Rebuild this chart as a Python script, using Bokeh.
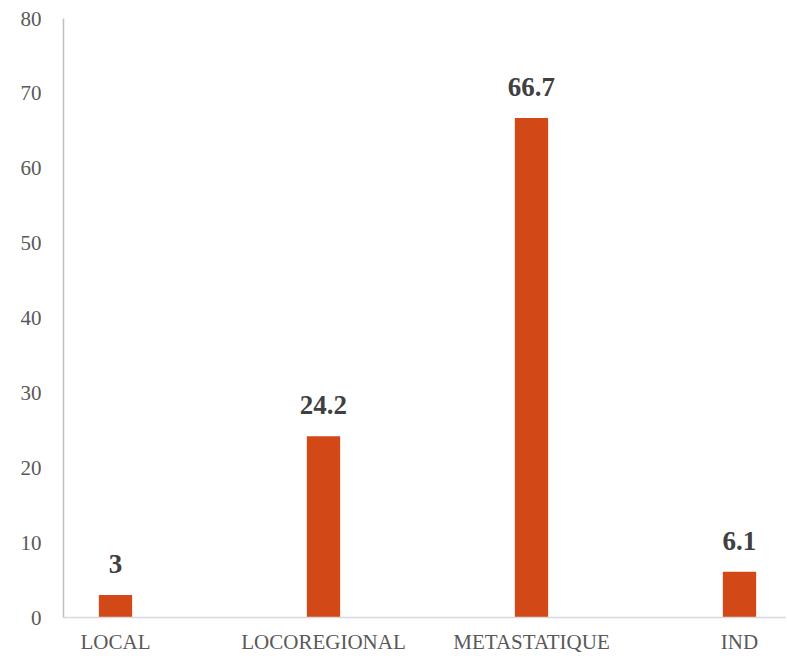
from bokeh.plotting import figure
from bokeh.models import Range1d, FixedTicker, ColumnDataSource
from bokeh.core.properties import value
from bokeh.embed import file_html
from bokeh.resources import INLINE

categories = ["LOCAL", "LOCOREGIONAL", "METASTATIQUE", "IND"]
values = [3, 24.2, 66.7, 6.1]
labels = ["3", "24.2", "66.7", "6.1"]
y_ticks = [0, 10, 20, 30, 40, 50, 60, 70, 80]

xpos = list(range(len(categories)))
src = ColumnDataSource(dict(x=xpos, cat=categories, val=values, lab=labels))

p = figure(
    x_range=Range1d(-0.25, 3.226),
    y_range=Range1d(0, 80),
    frame_width=723, frame_height=599,
    output_backend="svg", toolbar_location=None,
    min_border_left=63, min_border_right=0, min_border_top=18, min_border_bottom=0,
)
p.outline_line_color = None
p.xgrid.grid_line_color = None
p.ygrid.grid_line_color = None

p.vbar(x="x", top="val", width=0.16, source=src, color="#D34817", line_color=None)
p.text(x="x", y="val", text="lab", source=src, text_align="center", text_baseline="bottom",
       y_offset=-22, text_font=value("Liberation Serif"), text_font_style="bold",
       text_font_size="27px", text_color="#404040")

p.xaxis.ticker = FixedTicker(ticks=xpos)
p.xaxis.major_label_overrides = {i: c for i, c in zip(xpos, categories)}
p.yaxis.ticker = FixedTicker(ticks=y_ticks)
for ax in (p.xaxis, p.yaxis):
    ax.major_tick_line_color = None
    ax.minor_tick_line_color = None
    ax.major_label_text_font = "Liberation Serif"
    ax.major_label_text_color = "#595959"
p.yaxis.major_label_text_font_size = "21px"
p.xaxis.major_label_text_font_size = "21px"
p.yaxis.axis_line_color = "#BFBFBF"
p.yaxis.axis_line_width = 1.5
p.yaxis.major_label_standoff = 16
p.xaxis.axis_line_color = "#D9D9D9"
p.xaxis.axis_line_width = 1.5
p.xaxis.major_label_standoff = 6

open("out.html", "w").write(file_html(p, INLINE))
